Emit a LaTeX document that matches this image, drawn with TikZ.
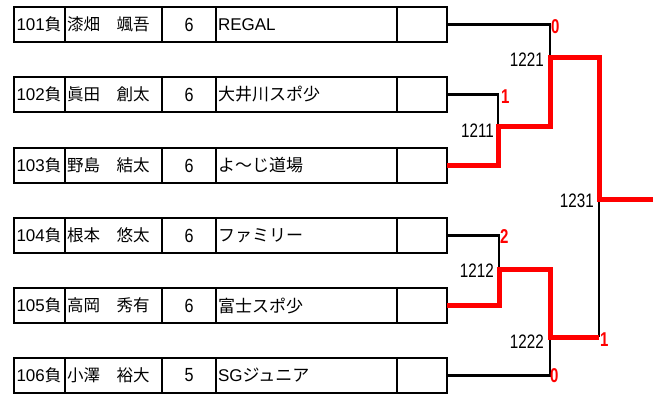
\documentclass[tikz,border=0pt]{standalone}
\usepackage{fontspec}
\setmainfont{Noto Sans CJK JP}
\newfontfamily\lat{Liberation Sans}
\tikzset{
  cell/.style={draw, line width=2pt, minimum height=35pt, inner ysep=0pt, outer sep=0pt, anchor=north west,
    font=\fontsize{16.5}{16.5}\selectfont},
  ca/.style={cell, text width=46pt, inner xsep=2.5pt, align=left},
  cb/.style={cell, text width=93pt, inner xsep=2pt, align=left},
  cc/.style={cell, text width=50pt, inner xsep=2pt, align=center},
  cd/.style={cell, text width=177pt, inner xsep=2pt, align=left, font=\fontsize{17}{17}\selectfont},
  ce/.style={cell, minimum width=50pt, inner xsep=0pt},
  wire/.style={line width=2.5pt, black},
  win/.style={line width=5pt, red},
  mlabel/.style={inner sep=0pt, font=\lat\fontsize{19.5}{19.5}\selectfont},
  score/.style={inner sep=0pt, text=red, font=\lat\bfseries\fontsize{20}{20}\selectfont}
}
\begin{document}
\begin{tikzpicture}[x=1pt,y=-1pt]
\useasboundingbox (0,0) rectangle (653,394);
\foreach \i/\t/\n/\nm/\s/\tm in {
  1/7/101/漆畑　颯吾/6/{\lat REGAL},
  2/77/102/眞田　創太/6/大井川スポ少,
  3/148/103/野島　結太/6/よ～じ道場,
  4/218/104/根本　悠太/6/ファミリー,
  5/288/105/高岡　秀有/6/富士スポ少,
  6/358/106/小澤　裕大/5/{{\lat SG}ジュニア}}{
  \node[ca] (r\i a) at (14,\t) {{\lat\fontsize{17}{17}\selectfont\n}負};
  \node[cb] (r\i b) at (65,\t) {\nm};
  \node[cc] (r\i c) at (162,\t) {{\lat\fontsize{19}{19}\selectfont\scalebox{0.85}[1]{\s}}};
  \node[cd] (r\i d) at (216,\t) {\tm};
  \node[ce] (r\i e) at (397,\t) {};
}
\coordinate (c1211) at (498,126);
\coordinate (c1212) at (499,269);
\coordinate (c1221) at (550,57);
\coordinate (c1222) at (550,337);
\coordinate (c1231) at (599,199);
\coordinate (champ) at (653,199);
% black wires
\draw[wire] (r1e.east) -| (c1221);
\draw[wire] (r2e.east) -| (c1211);
\draw[wire] (r4e.east) -| (c1212);
\draw[wire] (r6e.east) -| (c1222);
\draw[wire] (c1222 -| c1231) -- (c1231);
% winning path
\draw[win] (r3e.east) -| (c1211) -| (c1221) -| (c1231) -- (champ);
\draw[win] (r5e.east) -| (c1212) -| (c1222) -- (c1222 -| c1231);
% match labels
\node[mlabel, anchor=east] (l1221) at (544,60) {\scalebox{0.78}[1]{1221}};
\node[mlabel, anchor=east] (l1211) at (494,131) {\scalebox{0.78}[1]{1211}};
\node[mlabel, anchor=east] (l1231) at (594,201) {\scalebox{0.78}[1]{1231}};
\node[mlabel, anchor=east] (l1212) at (494,271) {\scalebox{0.78}[1]{1212}};
\node[mlabel, anchor=east] (l1222) at (544,342) {\scalebox{0.78}[1]{1222}};
% scores
\node[score, anchor=west] (s1) at (551,26.5) {\scalebox{0.75}[1]{0}};
\node[score, anchor=west] (s2) at (501,97) {\scalebox{0.75}[1]{1}};
\node[score, anchor=west] (s4) at (500,237) {\scalebox{0.75}[1]{2}};
\node[score, anchor=west] (s7) at (600,340) {\scalebox{0.75}[1]{1}};
\node[score, anchor=west] (s6) at (550,376) {\scalebox{0.75}[1]{0}};
\end{tikzpicture}
\end{document}
